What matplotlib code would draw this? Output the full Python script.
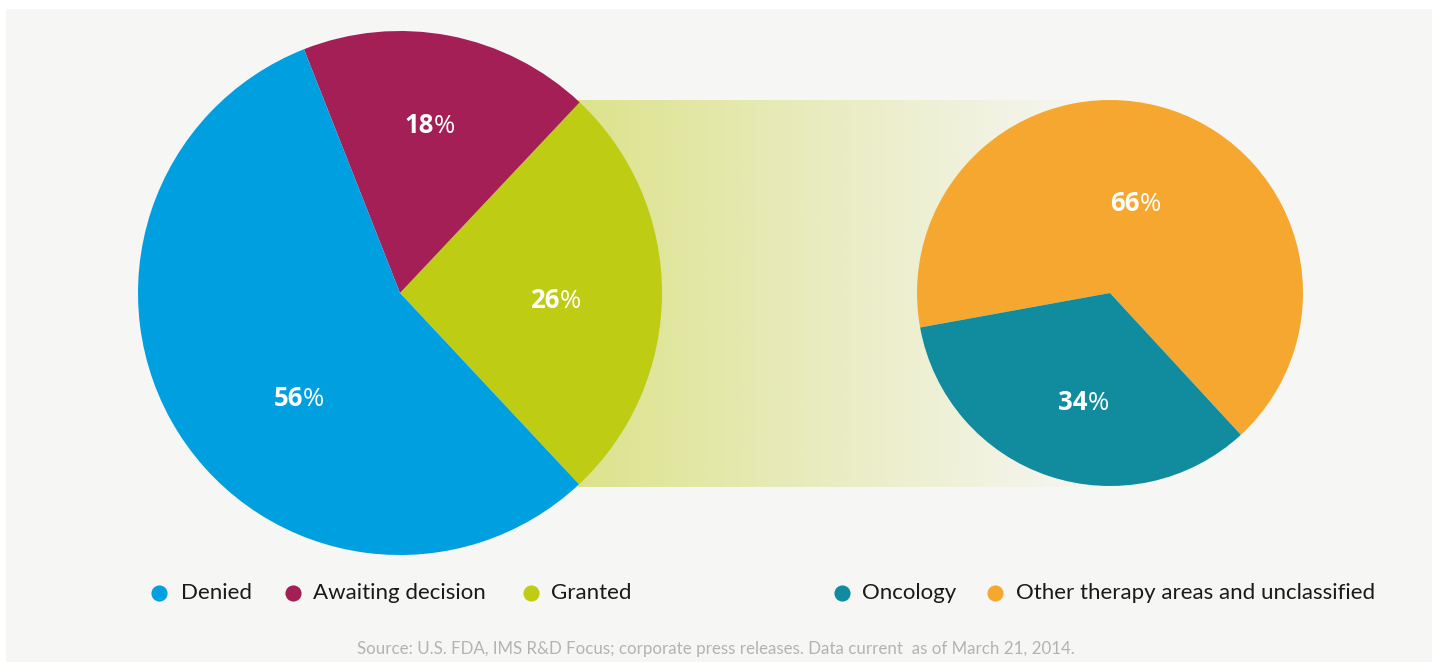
import numpy as np
import matplotlib.pyplot as plt
from matplotlib.patches import Rectangle

# left pie: approval status
status_labels = ['Granted', 'Awaiting decision', 'Denied']
status_values = [26, 18, 56]
status_colors = ['#bfcc14', '#a31f56', '#009fe0']

# right pie: therapy area of granted
area_labels = ['Other therapy areas and unclassified', 'Oncology']
area_values = [66, 34]
area_colors = ['#f6a72f', '#108c9e']

legend_order_left = ['Denied', 'Awaiting decision', 'Granted']
legend_order_right = ['Oncology', 'Other therapy areas and unclassified']

source_text = ('Source: U.S. FDA, IMS R&D Focus; corporate press releases. '
               'Data current  as of March 21, 2014.')

W, H = 1433, 662
BG = '#f6f6f4'

fig = plt.figure(figsize=(W / 100, H / 100), dpi=100)
fig.patch.set_facecolor('white')
ax = fig.add_axes([0, 0, 1, 1])


def py(y):
    # pixel row (from top) -> data y
    return H - y


# panel background
ax.add_patch(Rectangle((6, 0), 1426, py(9), facecolor=BG, edgecolor='none', zorder=0))

# gradient band linking the two pies
band = np.zeros((2, 256, 4))
green = np.array([191, 204, 20]) / 255
band[..., :3] = green
band[..., 3] = np.linspace(0.5, 0.0, 256) ** 1.1
ax.imshow(band, extent=(578, 1110, py(487), py(100)), aspect='auto',
          interpolation='bilinear', zorder=1)

# pies
ax.pie(status_values, colors=status_colors, startangle=-46.9, counterclock=True,
       center=(400, py(293)), radius=262, frame=True,
       wedgeprops=dict(linewidth=0, zorder=2))
ax.pie(area_values, colors=area_colors, startangle=-47.3, counterclock=True,
       center=(1110, py(293)), radius=193, frame=True,
       wedgeprops=dict(linewidth=0, zorder=2))

ax.set_xlim(0, W)
ax.set_ylim(0, H)
ax.set_aspect('auto')
ax.axis('off')

# percentage labels: bold number followed by regular '%'
label_pos = {
    'Denied': (303, 406), 'Awaiting decision': (434, 133), 'Granted': (560, 308),
    'Other therapy areas and unclassified': (1140, 211), 'Oncology': (1088, 410),
}
vals = dict(zip(status_labels, status_values))
vals.update(dict(zip(area_labels, area_values)))
for name, (x, y) in label_pos.items():
    t = ax.text(x, py(y), str(vals[name]), ha='right', va='baseline', color='white',
                fontsize=18.5, fontweight='bold', family='Open Sans', zorder=5)
    ax.annotate('%', xy=(1, 0), xycoords=t, ha='left', va='bottom', color='white',
                fontsize=18.5, family='Open Sans', zorder=5)

# legend
all_colors = dict(zip(status_labels, status_colors))
all_colors.update(dict(zip(area_labels, area_colors)))
marker_x = [159, 293, 531, 842, 995]
text_x = [181, 313, 551, 862, 1016]
for name, mx, tx in zip(legend_order_left + legend_order_right, marker_x, text_x):
    ax.scatter([mx], [py(593)], s=135, color=all_colors[name], linewidths=0, zorder=5)
    ax.text(tx, py(593), name, ha='left', va='center', fontsize=16,
            family='Lato', color='#1a1a1a')

ax.text(716, py(649), source_text, ha='center', va='center', fontsize=12.2,
        family='Lato', color='#b3b3b3')

plt.savefig('out.png', dpi=100, facecolor='white')
